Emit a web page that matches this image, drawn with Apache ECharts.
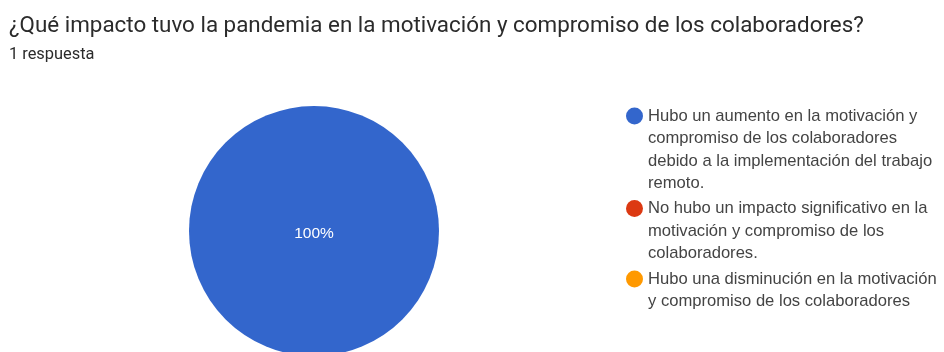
<!DOCTYPE html>
<html>
<head>
<meta charset="utf-8">
<script src="https://cdn.jsdelivr.net/npm/echarts@6/dist/echarts.min.js"></script>
<style>
  html, body { margin: 0; padding: 0; background: #ffffff; }
  #chart { width: 944px; height: 352px; }
</style>
</head>
<body>
<div id="chart"></div>
<script>
// Survey question and response count
const questionTitle = '¿Qué impacto tuvo la pandemia en la motivación y compromiso de los colaboradores?';
const responseCount = '1 respuesta';

// Answer options, one array of wrapped lines per option
const answerLines = [
  ['Hubo un aumento en la motivación y', 'compromiso de los colaboradores', 'debido a la implementación del trabajo', 'remoto.'],
  ['No hubo un impacto significativo en la', 'motivación y compromiso de los', 'colaboradores.'],
  ['Hubo una disminución en la motivación', 'y compromiso de los colaboradores']
];

// Number of responses per option
const answerCounts = [1, 0, 0];

const sliceColors = ['#3366cc', '#dc3912', '#ff9900'];

const answerNames = answerLines.map(lines => lines.join('\n'));

const chart = echarts.init(document.getElementById('chart'), null, { renderer: 'canvas' });

// Legend layout: one legend block per answer. Blank lines are prepended to
// each entry so that the vertically centred text puts its first line on the marker.
const lineH = 22.5;
const markerSize = 17;
const markerCentersY = [116, 208.5, 279];
const legends = answerNames.map((name, i) => {
  const n = answerLines[i].length;
  const boxH = (2 * n - 1) * lineH;
  return {
    data: [name],
    orient: 'vertical',
    left: 626,
    top: markerCentersY[i] - boxH / 2,
    padding: 0,
    icon: 'circle',
    itemWidth: markerSize,
    itemHeight: markerSize,
    selectedMode: false,
    formatter: txt => '\n'.repeat(n - 1) + txt,
    textStyle: {
      fontFamily: '"Liberation Sans", Arial, sans-serif',
      fontSize: 16.6,
      color: '#444444',
      lineHeight: lineH
    }
  };
});

chart.setOption({
  animation: false,
  backgroundColor: '#ffffff',
  color: sliceColors,
  title: {
    text: questionTitle,
    subtext: responseCount,
    left: 9,
    top: 15,
    padding: 0,
    itemGap: 10,
    textStyle: {
      fontFamily: 'Roboto, sans-serif',
      fontSize: 22.4,
      fontWeight: 'normal',
      color: '#2b2b2b'
    },
    subtextStyle: {
      fontFamily: 'Roboto, sans-serif',
      fontSize: 16.4,
      color: '#2b2b2b'
    }
  },
  legend: legends,
  series: [{
    type: 'pie',
    center: [314, 231],
    radius: [0, 125],
    startAngle: 90,
    clockwise: true,
    silent: true,
    itemStyle: { borderWidth: 0 },
    label: {
      show: true,
      position: 'center',
      formatter: p => (p.value > 0 ? Math.round(p.percent) + '%' : ''),
      color: '#ffffff',
      fontFamily: '"Liberation Sans", Arial, sans-serif',
      fontSize: 15.5
    },
    labelLayout: { dy: 3 },
    labelLine: { show: false },
    data: answerNames.map((name, i) => ({ name: name, value: answerCounts[i] }))
  }]
});
</script>
</body>
</html>
